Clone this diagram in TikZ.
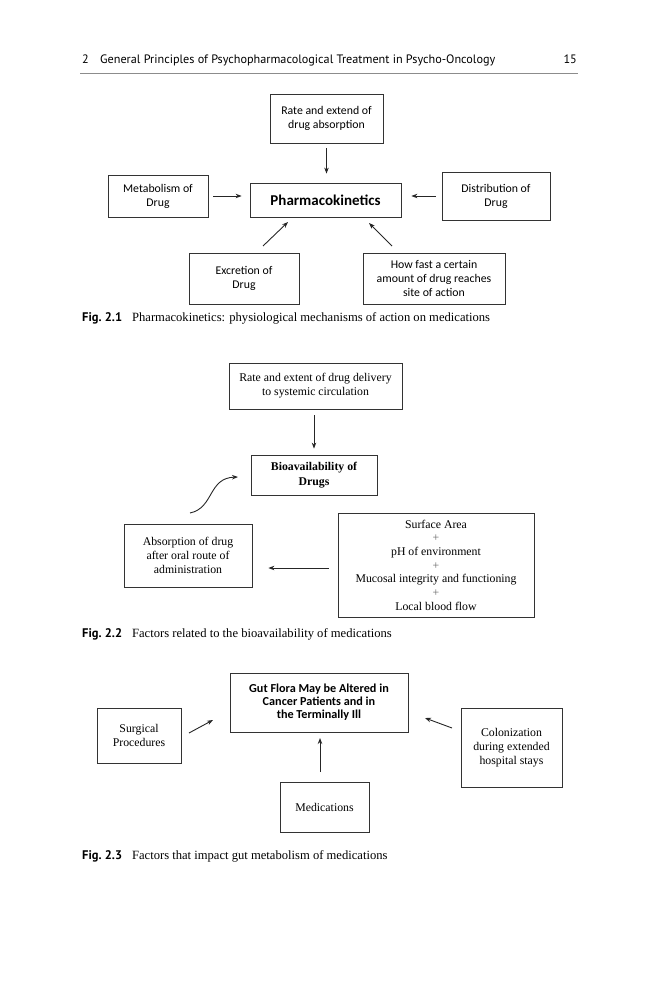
\documentclass[tikz,border=0pt]{standalone}
\usepackage{fontspec}
\setmainfont{Liberation Serif}
\newfontfamily\calibri{Carlito}
\newfontfamily\ptsans{PT Sans}
\usetikzlibrary{arrows.meta}
\begin{document}
\begin{tikzpicture}[x=1pt,y=-1pt,
  box/.style={draw=black!80, line width=0.8pt, inner sep=0pt, align=center},
  arr/.style={draw=black!85, line width=0.9pt, -{Stealth[length=6pt,width=4.5pt]}},
  cal/.style={font=\calibri\fontsize{11.8}{14}\selectfont},
  calb/.style={font=\calibri\bfseries\fontsize{12.2}{13}\selectfont},
  ser/.style={font=\fontsize{11.8}{14}\selectfont},
  hdr/.style={font=\ptsans\fontsize{12.2}{14}\selectfont, inner sep=0pt},
  figcap/.style={font=\fontsize{12.6}{14}\selectfont, inner sep=0pt, anchor=base west},
]
\useasboundingbox (0,0) rectangle (659,1000);
% header
\node[hdr, anchor=base west] (hnum) at (82,64) {2};
\node[hdr, anchor=base west] (htitle) at (100,64) {General Principles of Psychopharmacological Treatment in Psycho-Oncology};
\node[hdr, anchor=base east] (hpage) at (577,64) {15};
\coordinate (rl) at (80,73);
\coordinate (rr) at (578,73);
\draw[black!45, line width=0.9pt] (rl) -- (rr);

% ---------- Fig 2.1
\node[box, cal, minimum width=113pt, minimum height=49pt] (rate) at (326.5,118.5) {Rate and extend of\\drug absorption};
\node[box, font=\calibri\bfseries\fontsize{15}{17}\selectfont, minimum width=151pt, minimum height=34pt] (pk) at (325.5,200) {Pharmacokinetics};
\node[box, cal, minimum width=100pt, minimum height=42pt] (metab) at (158,196) {Metabolism of\\Drug};
\node[box, cal, minimum width=108pt, minimum height=48pt] (distr) at (496,196) {Distribution of\\Drug};
\node[box, cal, minimum width=110pt, minimum height=51pt] (excr) at (244,278.5) {Excretion of\\Drug};
\node[box, cal, minimum width=142pt, minimum height=51pt] (fast) at (434,278.5) {How fast a certain\\amount of drug reaches\\site of action};
\draw[arr, shorten <=5pt, shorten >=9pt] (rate.south) -- (rate.south |- pk.north);
\draw[arr, shorten <=5pt, shorten >=8pt] (metab.east) -- (metab.east -| pk.west);
\draw[arr, shorten <=6pt, shorten >=10pt] (distr.west) -- (distr.west -| pk.east);
\coordinate (e1) at (263,246);
\coordinate (e2) at (288,222);
\draw[arr] (e1) -- (e2);
\coordinate (f1) at (392,246);
\coordinate (f2) at (369,223);
\draw[arr] (f1) -- (f2);
\node[figcap] (cap1) at (82,321) {{\ptsans\bfseries\fontsize{12.5}{14}\selectfont Fig.~2.1}\hspace{10pt}Pharmacokinetics: physiological mechanisms of action on medications};

% ---------- Fig 2.2
\node[box, ser, minimum width=173pt, minimum height=46pt] (deliv) at (315.5,386) {Rate and extent of drug delivery\\to systemic circulation};
\node[box, font=\bfseries\fontsize{11.8}{15}\selectfont, minimum width=126pt, minimum height=40pt] (bio) at (314,475) {Bioavailability of\\Drugs};
\node[box, ser, minimum width=128pt, minimum height=63pt] (absorb) at (188,555.5) {Absorption of drug\\after oral route of\\administration};
\node[box, font=\fontsize{11.8}{13.7}\selectfont, minimum width=196pt, minimum height=104pt] (factors) at (436,565) {Surface Area\\{\color{black!60}+}\\pH of environment\\{\color{black!60}+}\\Mucosal integrity and functioning\\{\color{black!60}+}\\Local blood flow};
\draw[arr, shorten <=6pt, shorten >=6pt] (deliv.south -| bio.north) -- (bio.north);
\coordinate (l1) at (329,568);
\draw[arr, shorten >=16pt] (l1) -- (l1 -| absorb.east);
\coordinate (c1) at (190,513);
\coordinate (c2) at (238,477);
\draw[arr] (c1) .. controls (214,508) and (208,478) .. (c2);
\node[figcap] (cap2) at (82,637) {{\ptsans\bfseries\fontsize{12.5}{14}\selectfont Fig.~2.2}\hspace{10pt}Factors related to the bioavailability of medications};

% ---------- Fig 2.3
\node[box, calb, minimum width=178pt, minimum height=59pt] (gut) at (319,702.5) {Gut Flora May be Altered in\\Cancer Patients and in\\the Terminally Ill};
\node[box, ser, minimum width=84pt, minimum height=55pt] (surg) at (139,735.5) {Surgical\\Procedures};
\node[box, ser, minimum width=101pt, minimum height=79pt] (colon) at (511.5,747.5) {Colonization\\during extended\\hospital stays};
\node[box, ser, minimum width=89pt, minimum height=50pt] (meds) at (324.5,807) {Medications};
\coordinate (s1) at (189,733);
\coordinate (s2) at (213,720);
\draw[arr] (s1) -- (s2);
\coordinate (k1) at (452,728);
\coordinate (k2) at (425,718);
\draw[arr] (k1) -- (k2);
\coordinate (m1) at (320,772);
\coordinate (m2) at (320,738);
\draw[arr] (m1) -- (m2);
\node[figcap] (cap3) at (82,859) {{\ptsans\bfseries\fontsize{12.5}{14}\selectfont Fig.~2.3}\hspace{10pt}Factors that impact gut metabolism of medications};
\end{tikzpicture}
\end{document}
